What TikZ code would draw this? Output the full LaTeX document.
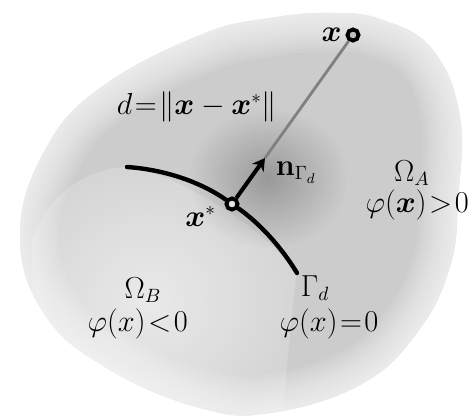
\documentclass[tikz,border=0pt]{standalone}
\usepackage{amsmath,amssymb,bm}
\usetikzlibrary{positioning,arrows.meta,fadings}
\thickmuskip=1.5mu plus 1mu
\tikzfading[name=softspot, inner color=transparent!0, outer color=transparent!100]

\begin{document}
\begin{tikzpicture}[
  x=0.02cm, y=-0.02cm,
  font=\fontsize{16}{18}\selectfont,
  body/.style={fill=black!20},
  lobe/.style={fill=white, fill opacity=0.18},
  pt/.style={
    circle,
    draw=black,
    line width=2.2pt,
    fill=black!25,
    inner sep=0pt,
    minimum size=6.3pt
  },
  iface/.style={line width=2.5pt, line cap=round},
  normal/.style={-{Stealth[length=7pt,width=8pt]}, line width=2.3pt},
  dist/.style={draw=black!50, line width=1.6pt},
  lbl/.style={inner sep=1pt},
  node distance=1pt and 1pt
]

\useasboundingbox (0,0) rectangle (471,419);

\path[save path=\blobline] plot[smooth cycle, tension=0.7] coordinates {
  (333,13) (383,20) (433,50) (460,117) (458,200) (450,267) (417,333)
  (360,385) (270,413) (200,408) (110,370) (45,315) (20,235) (45,150)
  (100,88) (200,35) (270,18)};

\fill[body, use path=\blobline];

\begin{scope}
  \clip[use path=\blobline];
  \fill[white, opacity=0.5, path fading=softspot] (150,300) ellipse (150 and 140);
  \fill[lobe] (127,167) .. controls (90,168) and (50,190) .. (32,240)
    -- (32,419) -- (282,419) .. controls (288,360) and (292,300) .. (297,273)
    .. controls (260,225) and (180,175) .. cycle;
  \fill[black, opacity=0.25, path fading=softspot] (268,178) ellipse (80 and 70);
  \foreach \w in {44,40,...,4}
    \draw[white, line width=\w pt, opacity=0.09, use path=\blobline];
\end{scope}

\node[pt] (xp) at (353,35) {};
\node[pt, fill=white!90!black] (xs) at (232,204) {};
\coordinate (ntip) at (265,158);
\coordinate (gs) at (127,167);
\coordinate (ge) at (297,273);

\draw[iface] (gs) .. controls (170,170) and (205,185) .. (xs);
\draw[iface] (xs) .. controls (258,222) and (280,245) .. (ge);
\draw[dist] (ntip) -- (xp);
\draw[normal] (xs) -- (ntip);

\node[lbl, left=of xp] (xlbl) {$\bm{x}$};
\node[lbl, below left=-3pt and 5pt of xs] (xslbl) {$\bm{x}^*$};
\node[lbl, below right=1pt and 5pt of ntip] (nlbl) {$\mathbf{n}_{\Gamma_d}$};
\node[lbl] (dlbl) at (197,107) {$d=\|\bm{x}-\bm{x}^*\|$};

\node[lbl] (omA) at (412,173) {$\Omega_A$};
\node[lbl, below=0pt of omA, xshift=3pt] (phiA) {$\varphi(\bm{x})>0$};
\node[lbl] (omB) at (143,290) {$\Omega_B$};
\node[lbl, below=1pt of omB, xshift=-3pt] (phiB) {$\varphi(x)<0$};
\node[lbl] (gam) at (315,288) {$\Gamma_d$};
\node[lbl, below=2pt of gam, xshift=8pt] (phiG) {$\varphi(x)=0$};

\end{tikzpicture}
\end{document}
